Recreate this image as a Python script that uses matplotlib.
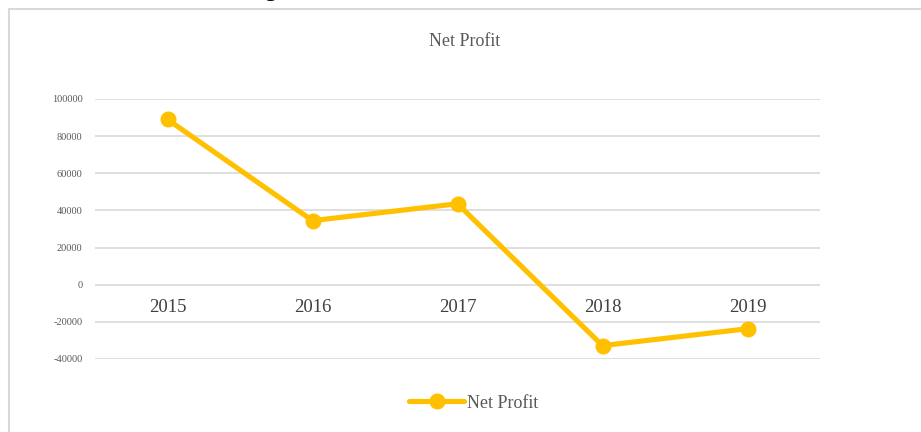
import matplotlib
matplotlib.use("Agg")
import matplotlib.pyplot as plt
from matplotlib.patches import Rectangle

plt.rcParams['font.family'] = ['Liberation Serif', 'DejaVu Serif']

years = ['2015', '2016', '2017', '2018', '2019']
net_profit = [89000, 34500, 43600, -32800, -23700]
y_ticks = [-40000, -20000, 0, 20000, 40000, 60000, 80000, 100000]

W, H = 921, 432
fig = plt.figure(figsize=(W / 100, H / 100), dpi=100)

# chart border (screenshot of a spreadsheet chart)
fig.patches.append(Rectangle((8.5 / W, -0.1), 1.2, (H - 9.5) / H + 0.1,
                             transform=fig.transFigure, fill=False,
                             edgecolor='#d9d9d9', linewidth=1.5))
# clipped fragment of text above the chart
fig.text(271 / W, 1 + 4 / H, 'g', ha='center', va='baseline',
         fontsize=17, color='black')

ax = fig.add_axes([95 / W, (H - 359) / H, 725 / W, 260 / H])
x = list(range(len(years)))
ax.plot(x, net_profit, color='#FFC000', linewidth=3.7, marker='o',
        markersize=10.5, solid_capstyle='round', label='Net Profit',
        clip_on=False, zorder=3)

ax.set_xlim(-0.5, len(years) - 0.5)
ax.set_ylim(-40000, 100000)
ax.set_yticks(y_ticks)
ax.set_yticklabels([str(v) for v in y_ticks], fontsize=7.5, color='#595959')
ax.tick_params(axis='y', length=0, pad=9)
ax.grid(axis='y', color='#d9d9d9', linewidth=1.2)
ax.set_axisbelow(True)

ax.spines['bottom'].set_position(('data', 0))
for s in ['top', 'right', 'left', 'bottom']:
    ax.spines[s].set_visible(False)
ax.set_xticks(x)
ax.set_xticklabels(years, fontsize=13.5, color='#404040')
ax.tick_params(axis='x', length=0, pad=10)

fig.text(465 / W, 1 - 41 / H, 'Net Profit', ha='center', va='center',
         fontsize=13, color='#595959')

fig.legend(loc='center', bbox_to_anchor=(474 / W, 1 - 403 / H), frameon=False,
           fontsize=13, labelcolor='#595959', handlelength=3.0,
           handletextpad=0.2)

fig.savefig('out.png', dpi=100)
